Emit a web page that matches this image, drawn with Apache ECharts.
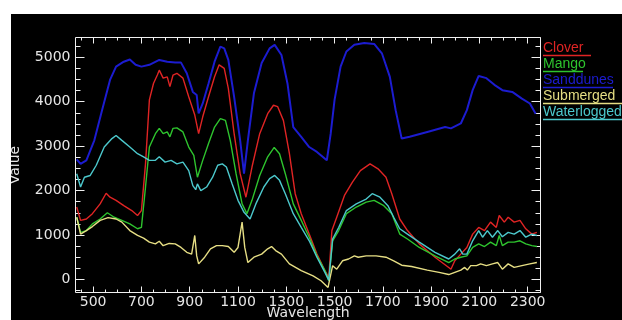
<!DOCTYPE html>
<html>
<head>
<meta charset="utf-8">
<script src="https://cdn.jsdelivr.net/npm/echarts@6/dist/echarts.min.js"></script>
<style>
  html, body { margin: 0; background: #fff; }
  #chart { position: absolute; left: 11px; top: 14px; width: 611px; height: 306px; }
</style>
</head>
<body>
<div id="chart"></div>
<script>
// spectra: [wavelength, value]
const clover = [[432,1630],[448,1330],[472,1360],[497,1480],[529,1700],[554,1940],[570,1850],[595,1780],[627,1660],[660,1550],[684,1440],[700,1550],[717,2600],[733,4040],[750,4410],[766,4600],[774,4710],[790,4530],[807,4560],[818,4340],[831,4600],[847,4640],[872,4530],[896,4110],[921,3700],[937,3280],[954,3660],[978,4110],[1003,4560],[1022,4830],[1043,4750],[1060,4300],[1084,3280],[1109,2380],[1133,1850],[1158,2530],[1190,3280],[1223,3730],[1247,3920],[1264,3890],[1288,3580],[1313,2830],[1337,1930],[1362,1480],[1395,1020],[1427,570],[1460,200],[1476,45],[1489,1100],[1509,1400],[1541,1890],[1574,2190],[1607,2450],[1647,2600],[1680,2490],[1713,2300],[1737,1930],[1770,1360],[1802,1100],[1851,800],[1916,500],[1973,270],[1982,230],[1998,420],[2023,570],[2048,720],[2072,1020],[2097,1170],[2121,1100],[2146,1290],[2170,1170],[2182,1440],[2203,1290],[2219,1400],[2244,1290],[2268,1330],[2292,1140],[2317,1020],[2338,1060]];

const mango = [[432,1400],[448,1060],[472,1100],[497,1250],[529,1360],[559,1500],[587,1400],[619,1330],[652,1250],[684,1140],[700,1170],[717,2080],[733,2980],[758,3280],[774,3400],[790,3280],[807,3320],[818,3210],[831,3400],[847,3410],[872,3320],[896,2980],[917,2790],[932,2300],[954,2680],[978,3060],[1003,3430],[1027,3620],[1048,3580],[1068,3130],[1092,2380],[1117,1700],[1137,1480],[1158,1780],[1190,2340],[1223,2760],[1250,2970],[1272,2830],[1296,2380],[1329,1700],[1362,1330],[1395,950],[1427,530],[1460,200],[1476,-30],[1492,870],[1517,1100],[1549,1480],[1590,1630],[1631,1740],[1664,1780],[1704,1660],[1737,1480],[1770,1020],[1802,910],[1851,720],[1916,530],[1973,380],[1998,460],[2023,500],[2048,530],[2072,720],[2097,800],[2121,740],[2146,840],[2170,760],[2182,990],[2195,760],[2219,840],[2244,840],[2268,870],[2292,800],[2317,760],[2338,740]];

const sanddunes = [[432,2700],[448,2600],[472,2680],[505,3130],[537,3810],[570,4490],[595,4790],[627,4900],[652,4950],[676,4830],[700,4790],[733,4830],[774,4940],[807,4900],[840,4880],[864,4880],[888,4640],[913,4220],[929,4150],[937,3735],[954,3960],[978,4410],[1003,4900],[1027,5240],[1043,5200],[1060,4940],[1084,4110],[1109,3130],[1125,2380],[1141,3130],[1166,4190],[1198,4870],[1231,5200],[1252,5280],[1280,5050],[1305,4410],[1329,3430],[1362,3210],[1395,2980],[1427,2870],[1468,2680],[1484,3280],[1500,4040],[1525,4790],[1549,5130],[1582,5280],[1623,5320],[1664,5300],[1696,5090],[1729,4560],[1753,3810],[1778,3170],[1811,3210],[1884,3320],[1958,3430],[1982,3400],[2023,3510],[2048,3810],[2072,4260],[2097,4580],[2129,4530],[2162,4380],[2195,4260],[2236,4220],[2276,4070],[2309,3960],[2333,3730]];

const submerged = [[432,1400],[448,1020],[472,1100],[497,1190],[529,1330],[562,1390],[595,1360],[619,1290],[652,1100],[684,990],[709,930],[733,840],[758,800],[774,860],[790,760],[815,810],[840,800],[864,720],[888,610],[908,570],[921,990],[929,530],[937,350],[962,500],[986,690],[1011,760],[1035,760],[1060,740],[1084,610],[1100,720],[1117,1290],[1128,720],[1141,380],[1166,500],[1198,570],[1223,690],[1239,740],[1256,650],[1280,570],[1313,350],[1362,200],[1411,80],[1444,-30],[1473,-180],[1481,-170],[1492,310],[1509,230],[1533,420],[1558,460],[1582,530],[1598,500],[1631,530],[1672,530],[1713,500],[1745,420],[1778,320],[1819,290],[1884,210],[1933,160],[1973,110],[1998,160],[2023,210],[2039,270],[2050,210],[2064,310],[2088,310],[2105,350],[2129,310],[2154,350],[2176,380],[2195,230],[2219,350],[2244,270],[2276,310],[2309,350],[2338,380]];

const waterlogged = [[432,2380],[448,2080],[464,2300],[488,2340],[513,2570],[546,2980],[578,3170],[595,3240],[619,3130],[652,2980],[684,2830],[709,2760],[733,2680],[758,2680],[774,2760],[798,2640],[823,2680],[847,2600],[872,2640],[896,2450],[913,2110],[925,2020],[932,2150],[946,2000],[970,2080],[995,2300],[1016,2570],[1035,2600],[1052,2530],[1076,2150],[1100,1780],[1125,1510],[1150,1360],[1174,1700],[1207,2080],[1231,2270],[1252,2340],[1272,2230],[1296,1930],[1329,1480],[1362,1170],[1395,870],[1427,500],[1460,160],[1476,-15],[1492,910],[1517,1170],[1549,1550],[1590,1700],[1631,1810],[1656,1930],[1688,1850],[1721,1660],[1745,1400],[1770,1140],[1802,1020],[1851,840],[1916,610],[1973,460],[1998,570],[2018,690],[2031,570],[2048,570],[2072,870],[2097,1100],[2113,950],[2133,1100],[2154,950],[2176,1100],[2195,960],[2219,1060],[2244,1020],[2268,1100],[2292,950],[2317,1020],[2338,990]];

const seriesNames = ['Clover', 'Mango', 'Sanddunes', 'Submerged', 'Waterlogged'];
const seriesData = [clover, mango, sanddunes, submerged, waterlogged];
const seriesColors = ['#e02424', '#2ec42e', '#1c1cd0', '#e6de84', '#4cc8cc'];
const underlineWidths = [48, 40, 70, 80, 80];

const xMajorTicks = [500, 700, 900, 1100, 1300, 1500, 1700, 1900, 2100, 2300];
const yMajorTicks = [0, 1000, 2000, 3000, 4000, 5000];
const xMinorTicks = [];
for (let v = 450; v <= 2350; v += 50) xMinorTicks.push(v);
const yMinorTicks = [];
for (let v = -250; v <= 5250; v += 250) yMinorTicks.push(v);

const X_MIN = 427, X_MAX = 2353;
const Y_MIN = -294, Y_MAX = 5445;
const AXIS_COLOR = '#f0f0f0';
const LABEL_COLOR = '#e6e6e6';

const chart = echarts.init(document.getElementById('chart'));

const makeAxis = (min, max, position, ticks, len, withLabels) => ({
  type: 'value',
  min: min,
  max: max,
  position: position,
  axisLine: { show: false, onZero: false },
  axisTick: {
    show: true,
    inside: true,
    length: len,
    customValues: ticks,
    lineStyle: { color: AXIS_COLOR, width: 1 }
  },
  axisLabel: {
    show: withLabels,
    customValues: ticks,
    formatter: (v) => String(v),
    color: LABEL_COLOR,
    fontFamily: 'DejaVu Sans',
    fontSize: 14
  },
  splitLine: { show: false }
});

const xBottom = makeAxis(X_MIN, X_MAX, 'bottom', xMajorTicks, 6, true);
xBottom.axisLabel.margin = 3;
xBottom.name = 'Wavelength';
xBottom.nameLocation = 'middle';
xBottom.nameGap = 14;
xBottom.nameMoveOverlap = false;
xBottom.nameTextStyle = { color: LABEL_COLOR, fontFamily: 'DejaVu Sans', fontSize: 14 };

const yLeft = makeAxis(Y_MIN, Y_MAX, 'left', yMajorTicks, 9, true);
yLeft.axisLabel.margin = 5;
yLeft.name = 'Value';
yLeft.nameLocation = 'middle';
yLeft.nameRotate = 90;
yLeft.nameGap = 53;
yLeft.nameMoveOverlap = false;
yLeft.nameTextStyle = { color: LABEL_COLOR, fontFamily: 'DejaVu Sans', fontSize: 14 };

const legendRich = {};
seriesNames.forEach((n, i) => {
  legendRich['t' + i] = { color: seriesColors[i], fontFamily: 'Liberation Sans', fontSize: 14, lineHeight: 12 };
  legendRich['u' + i] = { width: underlineWidths[i], height: 1.5, fontSize: 2, lineHeight: 3, backgroundColor: seriesColors[i] };
});

const option = {
  backgroundColor: '#000',
  animation: false,
  grid: {
    left: 64.5, right: 81.5, top: 23.5, bottom: 27.5,
    containLabel: false,
    outerBoundsMode: 'none',
    show: true,
    backgroundColor: 'transparent',
    borderColor: AXIS_COLOR,
    borderWidth: 1
  },
  xAxis: [
    xBottom,
    makeAxis(X_MIN, X_MAX, 'bottom', xMinorTicks, 3, false),
    makeAxis(X_MIN, X_MAX, 'top', xMajorTicks, 6, false),
    makeAxis(X_MIN, X_MAX, 'top', xMinorTicks, 3, false)
  ],
  yAxis: [
    yLeft,
    makeAxis(Y_MIN, Y_MAX, 'left', yMinorTicks, 5, false),
    makeAxis(Y_MIN, Y_MAX, 'right', yMajorTicks, 9, false),
    makeAxis(Y_MIN, Y_MAX, 'right', yMinorTicks, 5, false)
  ],
  legend: {
    orient: 'vertical',
    left: 522,
    top: 22,
    icon: 'none',
    itemWidth: 0,
    itemHeight: 2,
    itemGap: 0,
    selectedMode: false,
    data: seriesNames,
    formatter: (name) => {
      const i = seriesNames.indexOf(name);
      return '{t' + i + '|' + name + '}\n{u' + i + '|}';
    },
    textStyle: { fontSize: 2, lineHeight: 3, rich: legendRich }
  },
  series: seriesNames.map((n, i) => ({
    name: n,
    type: 'line',
    xAxisIndex: 0,
    yAxisIndex: 0,
    data: seriesData[i],
    showSymbol: false,
    symbol: 'none',
    color: seriesColors[i],
    lineStyle: { color: seriesColors[i], width: i === 2 ? 2 : 1.4 }
  }))
};

chart.setOption(option);
</script>
</body>
</html>
